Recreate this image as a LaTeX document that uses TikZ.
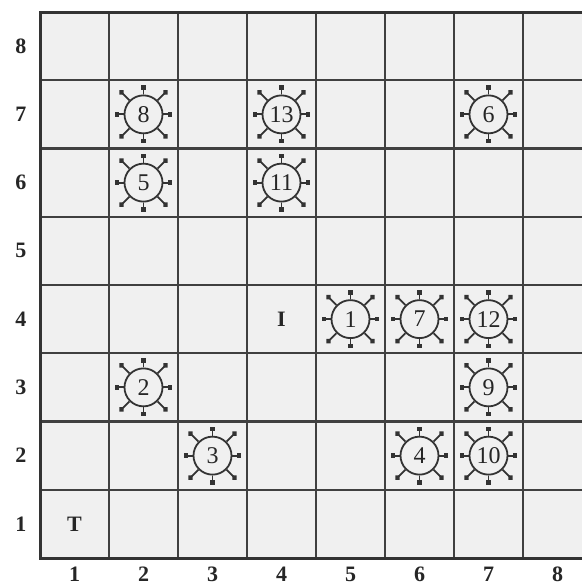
\documentclass[tikz,border=0pt]{standalone}
\usepackage{fontspec}
\setmainfont{Liberation Serif}
\usetikzlibrary{arrows.meta}
\begin{document}
\begin{tikzpicture}[x=1pt,y=-1pt,
  gridline/.style={draw=black!75,line width=2.2pt},
  frameline/.style={draw=black!80,line width=3pt},
  sym/.style={circle,draw=black!80,line width=1.8pt,minimum size=38pt,inner sep=0pt,
    font=\fontsize{24}{24}\selectfont,text=black!85},
  ospoke/.style={draw=black!80,line width=1.8pt,-{Square[length=4.5pt,width=4.5pt]}},
  dspoke/.style={draw=black!80,line width=1.8pt,-{Circle[length=5.5pt,width=5.5pt]}},
  lab/.style={font=\bfseries\fontsize{22}{22}\selectfont,text=black!85,inner sep=0pt}
]
\fill[white] (0,0) rectangle (582,587);
\useasboundingbox (0,0) rectangle (582,587);
\fill[black!6] (40,12) rectangle (582,558);
% inner grid
\foreach \i in {1,...,7} \draw[gridline] ({40+\i*69},12) -- ({40+\i*69},558);
\foreach \i in {1,...,7} \draw[gridline] (40,{12+\i*68.25}) -- (582,{12+\i*68.25});
% frame
\draw[frameline] (582,12) -- (40,12) -- (40,558) -- (582,558);
% row and column labels
\foreach \r in {1,...,8} \node[lab] (row\r) at (21,{558-(\r-0.5)*68.25}) {\r};
\foreach \c in {1,...,8} \node[lab,anchor=south] (col\c) at ({40+(\c-0.5)*69},582) {\c};
% T and I
\node[lab] (T) at ({40+0.5*69},{558-0.5*68.25}) {T};
\node[lab] (I) at ({40+3.5*69},{558-3.5*68.25}) {I};
% symbols
\foreach \n/\c/\r in {8/2/7,13/4/7,6/7/7,5/2/6,11/4/6,1/5/4,7/6/4,12/7/4,2/2/3,9/7/3,3/3/2,4/6/2,10/7/2} {
  \node[sym] (s\n) at ({40+(\c-0.5)*69},{558-(\r-0.5)*68.25}) {\n};
  \foreach \a in {0,90,180,270} \draw[ospoke] (s\n.\a) -- ++(\a:9pt);
  \foreach \a in {45,135,225,315} \draw[dspoke] (s\n.\a) -- ++(\a:14pt);
}
\end{tikzpicture}
\end{document}
